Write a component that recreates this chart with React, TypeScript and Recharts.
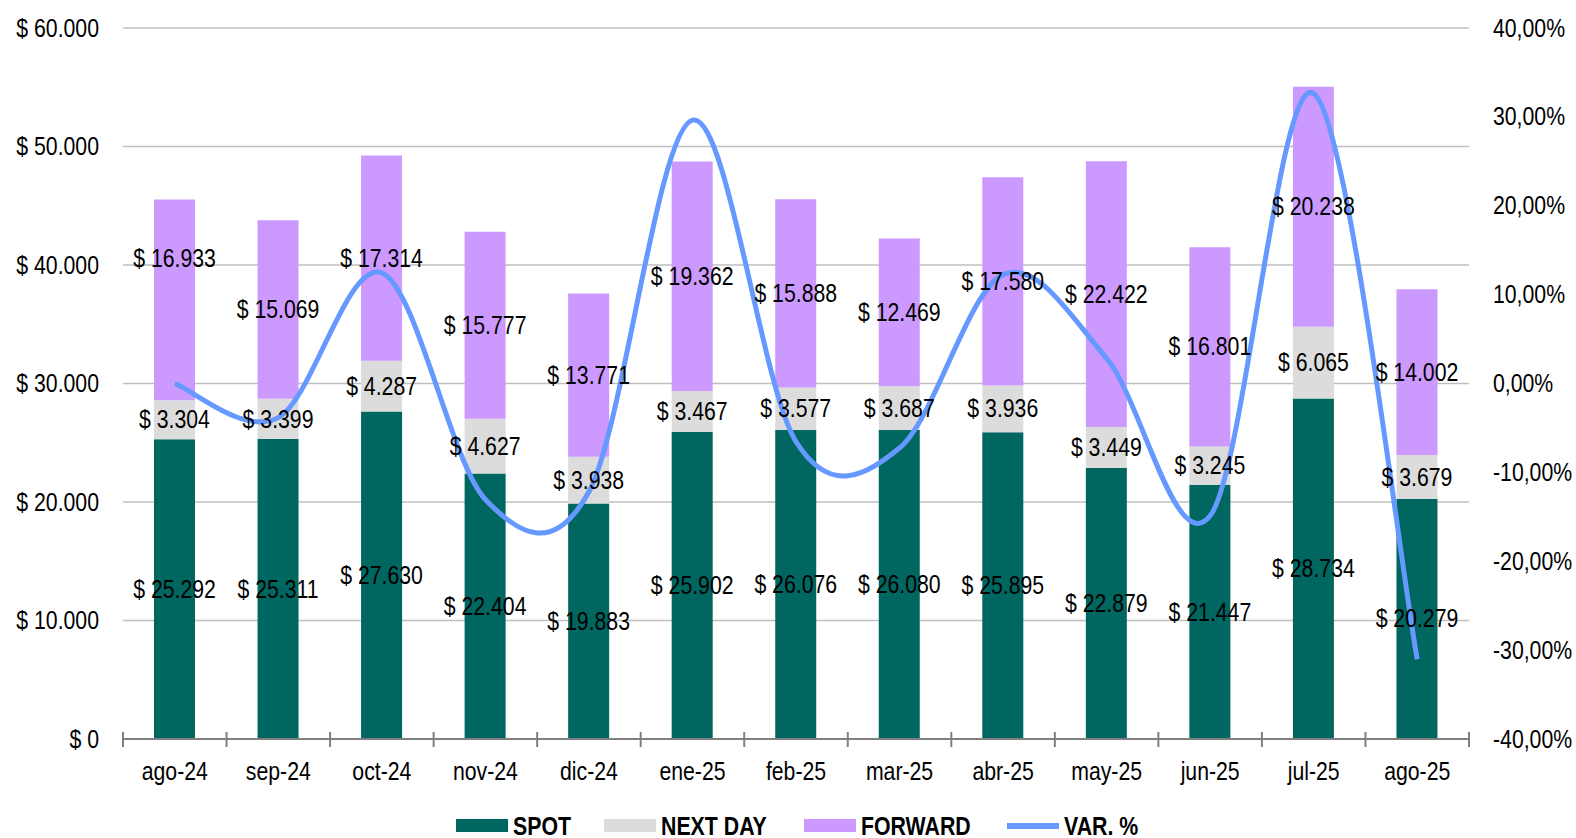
import React from 'react';
import {
  ComposedChart,
  Bar,
  Line,
  XAxis,
  YAxis,
  CartesianGrid,
  LabelList,
} from 'recharts';

const months = [
  'ago-24', 'sep-24', 'oct-24', 'nov-24', 'dic-24', 'ene-25', 'feb-25',
  'mar-25', 'abr-25', 'may-25', 'jun-25', 'jul-25', 'ago-25',
];
const spot = [25292, 25311, 27630, 22404, 19883, 25902, 26076, 26080, 25895, 22879, 21447, 28734, 20279];
const nextDay = [3304, 3399, 4287, 4627, 3938, 3467, 3577, 3687, 3936, 3449, 3245, 6065, 3679];
const forward = [16933, 15069, 17314, 15777, 13771, 19362, 15888, 12469, 17580, 22422, 16801, 20238, 14002];
// monthly change of the total volume, in %
const varPct = [0.0, -3.84, 12.45, -13.05, -12.18, 29.63, -6.55, -7.26, 12.25, 2.82, -14.89, 32.64, -31.03];

const leftTicks = [0, 10000, 20000, 30000, 40000, 50000, 60000];
const rightTicks = [-40, -30, -20, -10, 0, 10, 20, 30, 40];

const rows = months.map((m, i) => ({
  month: m,
  spot: spot[i],
  nextDay: nextDay[i],
  forward: forward[i],
  varPct: varPct[i],
}));

const FONT = "'Liberation Sans', Arial, sans-serif";
const NARROW = 0.85; // condensed look for all chart text
const C_SPOT = '#006660';
const C_NEXT = '#dcdcdc';
const C_FWD = '#cc99ff';
const C_VAR = '#6699ff';

const W = 1576;
const H = 838;
const PLOT_LEFT = 123;
const PLOT_RIGHT = 1469;
const BAND = (PLOT_RIGHT - PLOT_LEFT) / months.length;

const thousands = (v: number) => String(Math.round(v)).replace(/\B(?=(\d{3})+(?!\d))/g, '.');
const money = (v: number) => `$ ${thousands(v)}`;
const pct = (v: number) => `${v.toFixed(2).replace('.', ',')}%`;

// excel-style smoothed line (catmull-rom through the points)
const smoothCurve = (context: any) => {
  let pts: [number, number][] = [];
  return {
    areaStart() {},
    areaEnd() {},
    lineStart() {
      pts = [];
    },
    point(x: number, y: number) {
      pts.push([+x, +y]);
    },
    lineEnd() {
      if (!pts.length) return;
      context.moveTo(pts[0][0], pts[0][1]);
      for (let i = 0; i < pts.length - 1; i++) {
        const p0 = pts[Math.max(i - 1, 0)];
        const p1 = pts[i];
        const p2 = pts[i + 1];
        const p3 = pts[Math.min(i + 2, pts.length - 1)];
        context.bezierCurveTo(
          p1[0] + (p2[0] - p0[0]) / 6,
          p1[1] + (p2[1] - p0[1]) / 6,
          p2[0] - (p3[0] - p1[0]) / 6,
          p2[1] - (p3[1] - p1[1]) / 6,
          p2[0],
          p2[1],
        );
      }
    },
  };
};

const NarrowText = ({ x, y, anchor, baseline = 'central', bold = false, size = 25, scale = NARROW, children }: any) => (
  <g transform={`translate(${x},${y}) scale(${scale},1)`}>
    <text
      x={0}
      y={0}
      textAnchor={anchor}
      dominantBaseline={baseline}
      fontFamily={FONT}
      fontSize={size}
      fontWeight={bold ? 'bold' : 'normal'}
      fill="#000"
    >
      {children}
    </text>
  </g>
);

const SegmentLabel = (shift: (i: number) => number) => (props: any) => {
  const { x, y, width, height, value, index } = props;
  return (
    <NarrowText x={x + width / 2} y={y + height / 2 + shift(index)} anchor="middle">
      {money(value)}
    </NarrowText>
  );
};

const MonthTick = (props: any) => {
  const { x, y, payload, index } = props;
  const left = x - BAND / 2;
  return (
    <g>
      <line x1={left} x2={left} y1={y - 7} y2={y + 8} stroke="#808080" strokeWidth={2} />
      {index === months.length - 1 && (
        <line x1={x + BAND / 2} x2={x + BAND / 2} y1={y - 7} y2={y + 8} stroke="#808080" strokeWidth={2} />
      )}
      <NarrowText x={x} y={y + 41} anchor="middle" baseline="auto">
        {payload.value}
      </NarrowText>
    </g>
  );
};

const MoneyTick = (props: any) => (
  <NarrowText x={props.x} y={props.y} anchor="end">
    {money(props.payload.value)}
  </NarrowText>
);

const PctTick = (props: any) => (
  <NarrowText x={props.x} y={props.y} anchor="start">
    {pct(props.payload.value)}
  </NarrowText>
);

const legendItems = [
  { name: 'SPOT', color: C_SPOT, kind: 'box', at: 456 },
  { name: 'NEXT DAY', color: C_NEXT, kind: 'box', at: 604 },
  { name: 'FORWARD', color: C_FWD, kind: 'box', at: 804 },
  { name: 'VAR. %', color: C_VAR, kind: 'line', at: 1007 },
];

export default function App() {
  return (
    <div style={{ position: 'absolute', left: 0, top: 0, width: W, height: H, background: '#fff', overflow: 'hidden' }}>
      <ComposedChart
        width={W}
        height={H}
        data={rows}
        margin={{ top: 28, right: 0, bottom: 0, left: 0 }}
      >
        <CartesianGrid vertical={false} stroke="#bfbfbf" strokeWidth={1.5} yAxisId="left" />
        <XAxis
          dataKey="month"
          axisLine={{ stroke: '#808080', strokeWidth: 2 }}
          tickLine={false}
          tickSize={0}
          tickMargin={0}
          height={99}
          interval={0}
          tick={<MonthTick />}
        />
        <YAxis
          yAxisId="left"
          width={PLOT_LEFT}
          domain={[0, 60000]}
          ticks={leftTicks}
          axisLine={false}
          tickLine={false}
          tickSize={0}
          tickMargin={24}
          tick={<MoneyTick />}
        />
        <YAxis
          yAxisId="right"
          orientation="right"
          width={W - PLOT_RIGHT}
          domain={[-40, 40]}
          ticks={rightTicks}
          axisLine={false}
          tickLine={false}
          tickSize={0}
          tickMargin={24}
          tick={<PctTick />}
        />
        <Bar yAxisId="left" dataKey="spot" stackId="vol" fill={C_SPOT} barSize={41} isAnimationActive={false}>
          <LabelList dataKey="spot" content={SegmentLabel(() => 0)} />
        </Bar>
        <Bar yAxisId="left" dataKey="nextDay" stackId="vol" fill={C_NEXT} barSize={41} isAnimationActive={false}>
          <LabelList dataKey="nextDay" content={SegmentLabel(() => 0)} />
        </Bar>
        <Bar yAxisId="left" dataKey="forward" stackId="vol" fill={C_FWD} barSize={41} isAnimationActive={false}>
          <LabelList dataKey="forward" content={SegmentLabel((i) => (i === 0 ? -41 : 0))} />
        </Bar>
        <Line
          yAxisId="right"
          dataKey="varPct"
          type={smoothCurve as any}
          stroke={C_VAR}
          strokeWidth={5}
          dot={false}
          activeDot={false}
          isAnimationActive={false}
        />
      </ComposedChart>
      <svg width={W} height={40} style={{ position: 'absolute', left: 0, top: 798 }}>
        {legendItems.map((it) => (
          <g key={it.name}>
            {it.kind === 'box' ? (
              <rect x={it.at} y={21} width={52} height={13} fill={it.color} />
            ) : (
              <rect x={it.at} y={25} width={52} height={6} fill={it.color} />
            )}
            <NarrowText x={it.at + 57} y={36.5} anchor="start" baseline="auto" bold scale={0.82} size={26}>
              {it.name}
            </NarrowText>
          </g>
        ))}
      </svg>
    </div>
  );
}
